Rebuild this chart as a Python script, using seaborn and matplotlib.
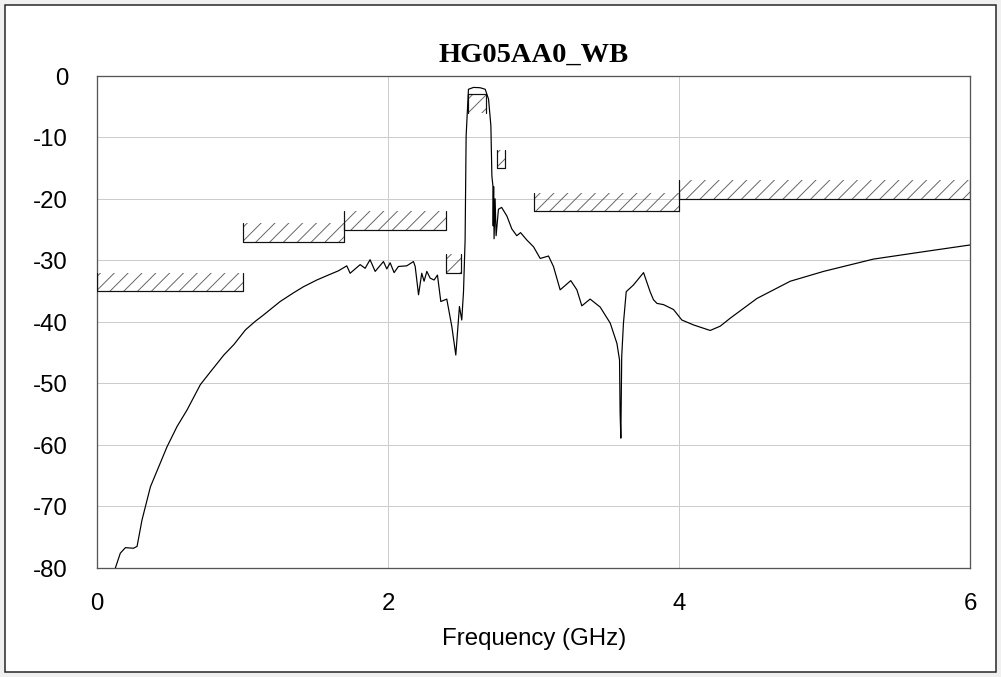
import numpy as np
import pandas as pd
import matplotlib
matplotlib.use("Agg")
import matplotlib.pyplot as plt
from matplotlib.patches import Rectangle
import seaborn as sns

# ---- data -------------------------------------------------------------
freq_ghz = [0.126, 0.16, 0.195, 0.25, 0.275, 0.309, 0.367, 0.481, 0.55, 0.619,
            0.71, 0.78, 0.871, 0.94, 1.02, 1.088, 1.143, 1.258, 1.349, 1.418,
            1.51, 1.579, 1.659, 1.716, 1.739, 1.808, 1.842, 1.876, 1.911, 1.968,
            1.991, 2.014, 2.041, 2.071, 2.128, 2.174, 2.186, 2.209, 2.231, 2.247,
            2.266, 2.289, 2.316, 2.339, 2.362, 2.403, 2.438, 2.465, 2.49, 2.506,
            2.518, 2.529, 2.536, 2.552, 2.587, 2.632, 2.667, 2.69, 2.706, 2.713,
            2.72, 2.722, 2.725, 2.728, 2.735, 2.742, 2.758, 2.78, 2.816, 2.85,
            2.884, 2.91, 2.953, 2.999, 3.045, 3.102, 3.136, 3.182, 3.255, 3.297,
            3.331, 3.388, 3.457, 3.526, 3.572, 3.59, 3.594, 3.599, 3.605, 3.617,
            3.636, 3.686, 3.755, 3.8, 3.823, 3.847, 3.892, 3.961, 4.018, 4.098,
            4.213, 4.282, 4.351, 4.534, 4.763, 4.992, 5.335, 5.679, 6.0]
s21_db = [-80, -77.6, -76.7, -76.8, -76.5, -72.2, -66.8, -60.3, -57, -54.3,
          -50.2, -48.1, -45.4, -43.7, -41.3, -39.9, -38.9, -36.7, -35.3, -34.3,
          -33.2, -32.5, -31.7, -30.9, -32.1, -30.7, -31.3, -29.9, -31.8, -30.2,
          -31.4, -30.4, -32.0, -31.0, -30.9, -30.2, -31.0, -35.6, -32.1, -33.4,
          -31.8, -32.9, -33.2, -32.4, -36.7, -36.3, -40.8, -45.4, -37.5, -39.7,
          -35.1, -26.7, -9.8, -2.2, -1.9, -1.95, -2.2, -3.8, -8.1, -16.3,
          -17.9, -24.4, -18.0, -26.5, -20.0, -26.0, -21.7, -21.4, -22.8, -24.9,
          -26.0, -25.5, -26.7, -27.8, -29.7, -29.3, -31.0, -34.8, -33.3, -34.8,
          -37.4, -36.3, -37.6, -40.2, -43.5, -46.2, -54.8, -58.9, -45.6, -40.2,
          -35.1, -34.0, -32.0, -35.1, -36.4, -37.0, -37.2, -38.0, -39.7, -40.5,
          -41.4, -40.7, -39.4, -36.2, -33.4, -31.8, -29.8, -28.6, -27.5]

# spec masks: start, stop, limit, kind ("max" = stopband ceiling, "min" = passband floor)
mask_start = [0.0, 1.0, 1.7, 2.4, 2.55, 2.75, 3.0, 4.0]
mask_stop = [1.0, 1.7, 2.4, 2.5, 2.67, 2.8, 4.0, 6.0]
mask_limit = [-35, -27, -25, -32, -3, -15, -22, -20]
mask_kind = ["max", "max", "max", "max", "min", "max", "max", "max"]

x_ticks = [0, 2, 4, 6]
y_ticks = [0, -10, -20, -30, -40, -50, -60, -70, -80]
title_text = "HG05AA0_WB"
x_label = "Frequency (GHz)"

# ---- figure -------------------------------------------------------------
W, H = 1001, 677
DPI = 83.4
sns.set_theme(style="white")
plt.rcParams["font.family"] = ["Liberation Sans", "DejaVu Sans"]
plt.rcParams["hatch.linewidth"] = 0.8

def pt(px):
    return px * 72.0 / DPI

fig = plt.figure(figsize=((W + 0.3) / DPI, (H + 0.3) / DPI), dpi=DPI)
fig.patch.set_facecolor("#f0f0f0")
frame = Rectangle((5 / W, 5 / H), (W - 10) / W, (H - 10) / H,
                  transform=fig.transFigure, facecolor="white",
                  edgecolor="#222222", linewidth=pt(1.5), zorder=-10)
fig.patches.append(frame)

L, R, T, B = 97, 970, 76, 568
ax = fig.add_axes([L / W, (H - B) / H, (R - L) / W, (B - T) / H])
ax.set_zorder(5)
ax.set_facecolor("white")

df = pd.DataFrame({"f": freq_ghz, "db": s21_db})
sns.lineplot(data=df, x="f", y="db", ax=ax, sort=False, estimator=None,
             color="black", linewidth=pt(1.2), zorder=4)

band = 3.0
for x0, x1, lim, kind in zip(mask_start, mask_stop, mask_limit, mask_kind):
    if kind == "max":
        lo, hi, edge = lim, lim + band, lim + band
    else:
        lo, hi, edge = lim - band, lim, lim - band
    ax.fill_between([x0, x1], [lo, lo], [hi, hi], facecolor="none",
                    edgecolor="#606060", hatch="//", linewidth=0, zorder=3)
    ax.plot([x0, x0, x1, x1], [edge, lim, lim, edge], color="#111111",
            linewidth=pt(1.2), zorder=3.5)

ax.set_xlim(0, 6)
ax.set_ylim(-80, 0)
ax.set_xticks(x_ticks)
ax.set_yticks(y_ticks)
ax.set_xticklabels([str(v) for v in x_ticks])
ax.set_yticklabels([str(v) for v in y_ticks])
ax.grid(True, color="#cccccc", linewidth=pt(1.0))
ax.set_axisbelow(True)
for s in ax.spines.values():
    s.set_color("#555555")
    s.set_linewidth(pt(1.3))
ax.tick_params(axis="both", length=0, labelsize=pt(24), labelcolor="black")
ax.tick_params(axis="x", pad=pt(25))
ax.tick_params(axis="y", pad=pt(29))
ax.set_xlabel(x_label, fontsize=pt(24), color="black")
ax.set_ylabel("")
ax.xaxis.set_label_coords(0.5, -0.122)

fig.text((L + R) / 2 / W, (H - 62) / H, title_text, ha="center", va="baseline",
         fontsize=pt(28.5), fontweight="bold",
         family=["Liberation Serif", "DejaVu Serif"], color="black")

fig.savefig("out.png", dpi=DPI, facecolor=fig.get_facecolor())
